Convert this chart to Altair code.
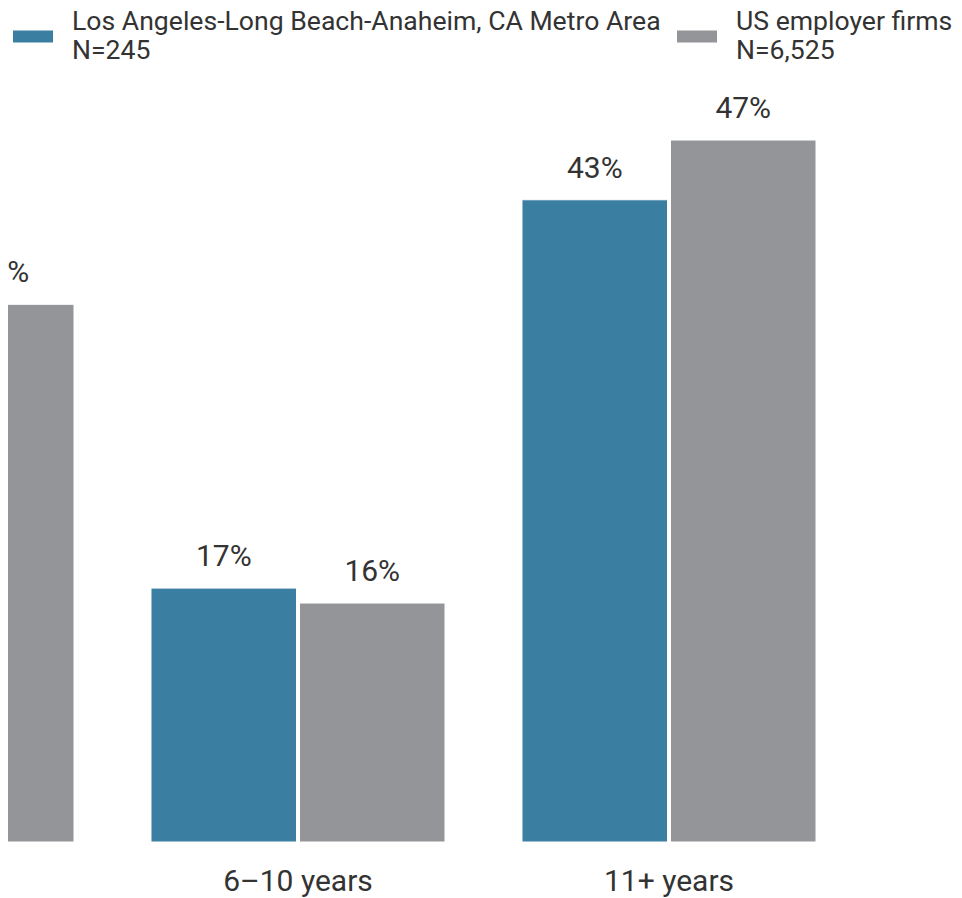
import altair as alt
import pandas as pd

categories = ["0–5 years", "6–10 years", "11+ years"]
series = ["Los Angeles-Long Beach-Anaheim, CA Metro Area|N=245", "US employer firms|N=6,525"]
la_values = [40, 17, 43]
us_values = [36, 16, 47]
colors = ["#3a7ea1", "#939598"]

rows = []
for c, a, b in zip(categories, la_values, us_values):
    rows.append({"age": c, "series": series[0], "value": a, "label": f"{a}%"})
    rows.append({"age": c, "series": series[1], "value": b, "label": f"{b}%"})
df = pd.DataFrame(rows)

x = alt.X(
    "age:N", sort=categories, title=None,
    scale=alt.Scale(range=[-228, 808], paddingInner=0.2075, paddingOuter=0),
    axis=alt.Axis(labelFontSize=30, labelFont="Roboto", labelColor="#333333",
                  ticks=False, domain=False, labelPadding=24, labelAngle=0),
)
xo = alt.XOffset("series:N", sort=series, scale=alt.Scale(paddingInner=0.02, paddingOuter=0))
y = alt.Y("value:Q", scale=alt.Scale(domain=[0, 55.84], nice=False), axis=None)

color = alt.Color(
    "series:N", sort=series,
    scale=alt.Scale(domain=series, range=colors),
    legend=alt.Legend(
        title=None, orient="none", legendX=5, legendY=-6, direction="horizontal",
        symbolType="M-1,0.4H1V1H-1Z", symbolSize=1600, symbolStrokeWidth=0,
        symbolOpacity=1, labelFontSize=26.6, labelFont="Roboto", labelColor="#333333",
        labelExpr="split(datum.label, '|')", labelOffset=19, columnPadding=16,
        labelLimit=1000, padding=0,
    ),
)

bars = alt.Chart(df).mark_bar(stroke="white", strokeWidth=1).encode(
    x=x, xOffset=xo, y=y, color=color
)
labels = alt.Chart(df).mark_text(
    dy=-22, baseline="alphabetic", fontSize=30, font="Roboto", color="#333333"
).encode(x=x, xOffset=xo, y=y, text="label:N")

chart = (
    alt.layer(bars, labels)
    .properties(
        width=946, height=834,
        autosize=alt.AutoSizeParams(type="none"),
        padding={"left": 0, "top": 0, "right": 0, "bottom": 56},
    )
    .configure_view(stroke=None)
)

chart.save("out.html", embed_options={"renderer": "svg", "actions": False})
